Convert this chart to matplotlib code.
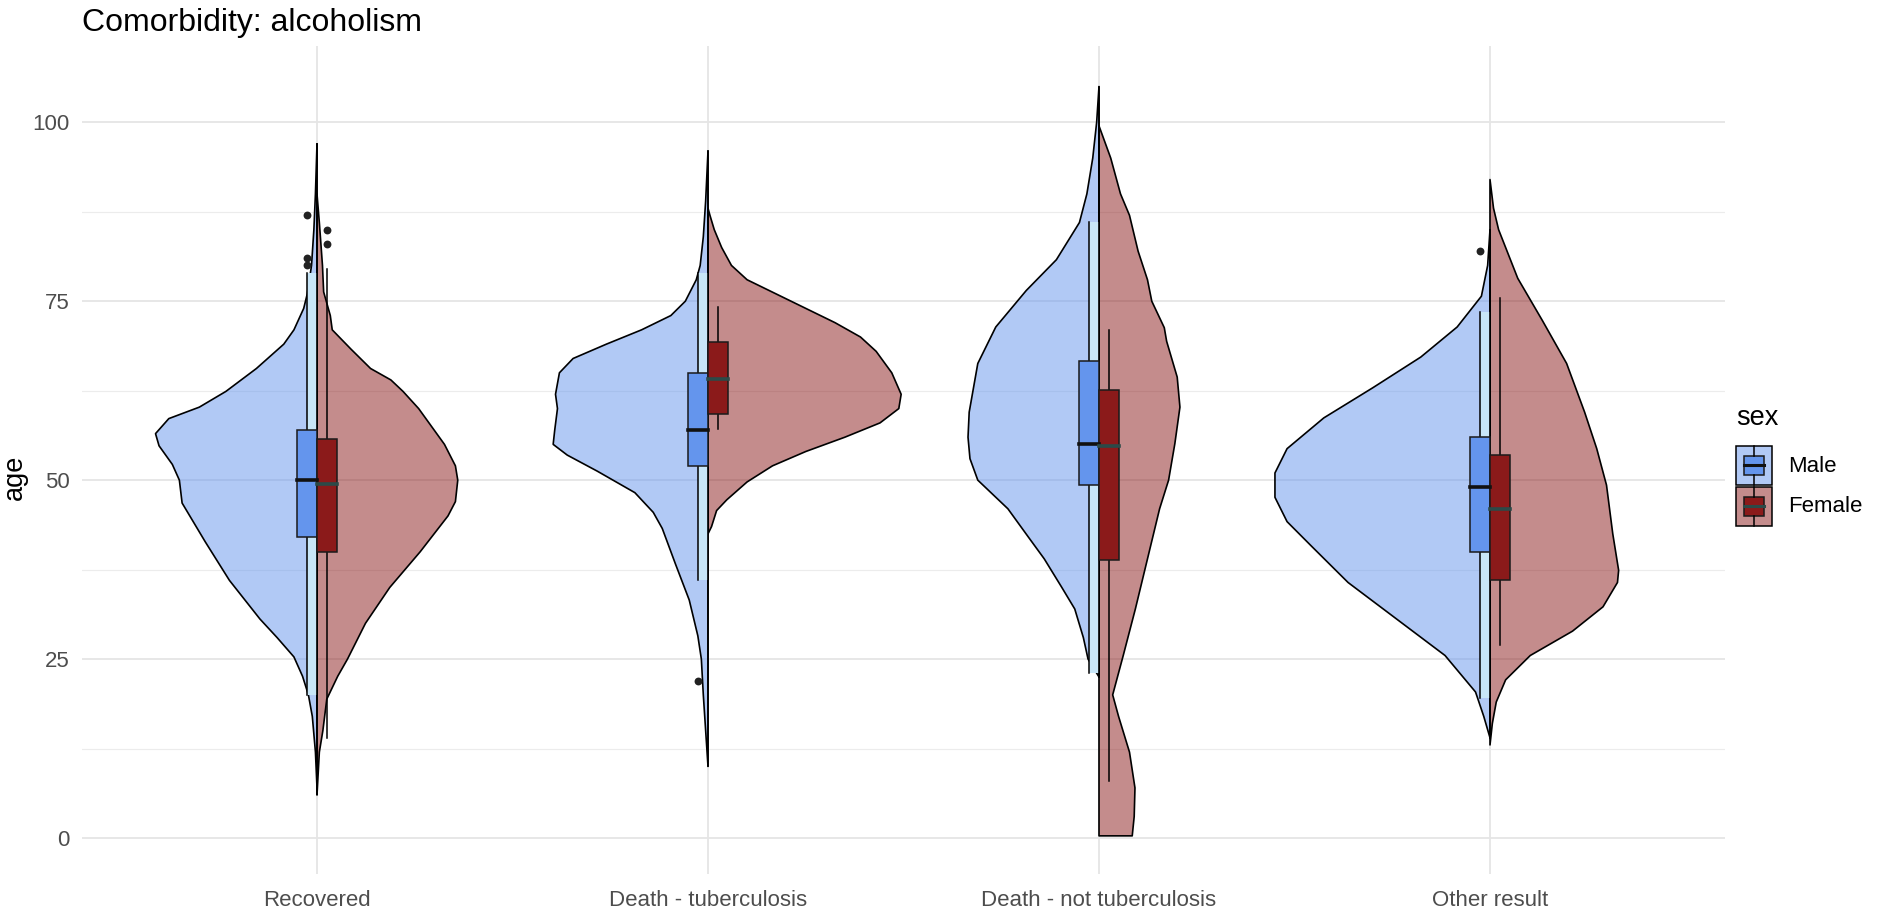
import matplotlib
matplotlib.use('Agg')
import matplotlib.pyplot as plt
from matplotlib.patches import Rectangle

plt.rcParams['font.family'] = ['Liberation Sans', 'DejaVu Sans']

outcomes = ['Recovered', 'Death - tuberculosis', 'Death - not tuberculosis', 'Other result']
sexes = ['Male', 'Female']

# half violin outlines: age, half width (category units)
recovered_male_age = [97, 90, 85, 80, 76, 74, 71, 69, 65.6, 62.4, 60.2, 58.6, 56.5, 54.8, 52.2, 50,
                      46.8, 41.4, 36, 30.6, 28, 25.3, 22.6, 20, 17, 12, 7]
recovered_male_w = [0, 0.004, 0.008, 0.014, 0.025, 0.034, 0.059, 0.085, 0.155, 0.233, 0.301, 0.379,
                    0.413, 0.404, 0.37, 0.352, 0.345, 0.286, 0.224, 0.146, 0.102, 0.059, 0.037,
                    0.022, 0.012, 0.004, 0]
recovered_female_age = [90, 86, 83, 80, 76.3, 73, 71, 68.3, 65.6, 64, 62.4, 60, 55, 52, 50, 47, 45,
                        40, 35, 30, 25, 22.6, 19.4, 15, 12, 9, 6]
recovered_female_w = [0, 0.006, 0.01, 0.014, 0.017, 0.034, 0.039, 0.087, 0.137, 0.189, 0.22, 0.26,
                      0.326, 0.354, 0.36, 0.354, 0.335, 0.264, 0.186, 0.124, 0.078, 0.053, 0.025,
                      0.015, 0.006, 0.003, 0]

tb_male_age = [96, 89, 84, 80, 78, 75, 73, 71, 69, 67, 65, 62, 60, 57, 55, 53.5, 51.25, 48.25, 45.5,
               43.25, 38.25, 33.25, 28.25, 25, 20, 15, 10]
tb_male_w = [0, 0.006, 0.012, 0.02, 0.03, 0.058, 0.095, 0.17, 0.26, 0.345, 0.38, 0.39, 0.385, 0.392,
             0.396, 0.36, 0.283, 0.187, 0.14, 0.117, 0.083, 0.048, 0.026, 0.017, 0.012, 0.006, 0]
tb_female_age = [88, 87, 85, 82.5, 80, 78, 76, 74, 72, 70, 68, 65, 62, 60, 58, 56, 54, 52,
                 49.75, 47.25, 45.75, 43.5, 42.5]
tb_female_w = [0, 0.005, 0.016, 0.035, 0.06, 0.1, 0.175, 0.25, 0.325, 0.39, 0.43, 0.47, 0.494,
               0.488, 0.44, 0.35, 0.25, 0.165, 0.1, 0.048, 0.022, 0.009, 0]

nottb_male_age = [105, 100, 95, 90, 86, 80.8, 76.5, 71.4, 66.3, 59.5, 56, 53, 50, 46, 42, 39, 35,
                  32, 28, 25, 22.5]
nottb_male_w = [0, 0.006, 0.016, 0.031, 0.05, 0.109, 0.186, 0.264, 0.31, 0.332, 0.335, 0.33, 0.31,
                0.233, 0.18, 0.14, 0.095, 0.062, 0.04, 0.028, 0]
nottb_female_age = [99.5, 95, 90, 87, 82, 78, 75, 71.3, 69.4, 64.4, 60.2, 55.1, 50, 46, 39, 32,
                    25.5, 20, 17, 12, 7, 3, 0.3]
nottb_female_w = [0, 0.03, 0.055, 0.078, 0.1, 0.124, 0.135, 0.167, 0.173, 0.2, 0.207, 0.194, 0.178,
                  0.155, 0.124, 0.093, 0.062, 0.035, 0.05, 0.078, 0.092, 0.09, 0.085]

other_male_age = [85, 80, 75.7, 71.4, 67.2, 62.9, 58.7, 54.4, 51, 47.6, 44.2, 40.8, 35.7, 30.6,
                  25.5, 20.4, 17, 14]
other_male_w = [0, 0.006, 0.022, 0.084, 0.177, 0.3, 0.425, 0.519, 0.55, 0.55, 0.519, 0.457, 0.363,
                0.239, 0.115, 0.037, 0.016, 0]
other_female_age = [92, 88, 85, 78.2, 72.3, 66.3, 59.5, 54.4, 49.3, 42.5, 37.4, 35.7, 32.3, 28.9,
                    25.5, 22.1, 19, 16, 13]
other_female_w = [0, 0.009, 0.022, 0.071, 0.134, 0.196, 0.242, 0.273, 0.298, 0.314, 0.329, 0.326,
                  0.289, 0.211, 0.103, 0.04, 0.016, 0.006, 0]

male_violin_age = [recovered_male_age, tb_male_age, nottb_male_age, other_male_age]
male_violin_w = [recovered_male_w, tb_male_w, nottb_male_w, other_male_w]
female_violin_age = [recovered_female_age, tb_female_age, nottb_female_age, other_female_age]
female_violin_w = [recovered_female_w, tb_female_w, nottb_female_w, other_female_w]

# box statistics per outcome
male_q1 = [42, 52, 49.3, 40]
male_med = [50, 57, 55, 49]
male_q3 = [57, 65, 66.7, 56]
male_lo = [20, 36, 23, 19.5]
male_hi = [79, 79, 86, 73.5]
female_q1 = [40, 59.3, 38.8, 36]
female_med = [49.5, 64.1, 54.8, 46]
female_q3 = [55.8, 69.3, 62.6, 53.5]
female_lo = [14, 57.2, 8, 27]
female_hi = [79.5, 74.2, 71, 75.5]

male_out_group = [0, 0, 0, 1, 3]
male_out_age = [87, 81, 80, 22, 82]
female_out_group = [0, 0]
female_out_age = [85, 83]

male_col = '#6495ED'
female_col = '#8B1A1A'
box_w = 0.05
wh_off = 0.026

W, H = 1901, 913
fig = plt.figure(figsize=(W / 100, H / 100), dpi=100)
ax = fig.add_axes([82.4 / W, 1 - 873.5 / H, 1642.2 / W, 827.5 / H])

for i in range(len(outcomes)):
    c = i + 1
    ma, mw = male_violin_age[i], male_violin_w[i]
    fa, fw = female_violin_age[i], female_violin_w[i]
    ax.fill_betweenx(ma, [c - w for w in mw], c, facecolor=male_col, alpha=0.5, lw=0, zorder=2)
    ax.fill_betweenx(ma, [c - w for w in mw], c, facecolor='none', edgecolor='black', lw=1.2, zorder=3)
    ax.fill_betweenx(fa, c, [c + w for w in fw], facecolor=female_col, alpha=0.5, lw=0, zorder=2)
    ax.fill_betweenx(fa, c, [c + w for w in fw], facecolor='none', edgecolor='black', lw=1.2, zorder=3)

    # light strip over male whisker range
    ax.add_patch(Rectangle((c - wh_off, male_lo[i]), wh_off, male_hi[i] - male_lo[i],
                           facecolor='#c8e6f8', edgecolor='none', zorder=4))
    ax.plot([c, c], [min(ma), max(ma)], color='black', lw=1.2, zorder=4)

    # whiskers
    ax.plot([c - wh_off] * 2, [male_lo[i], male_hi[i]], color='black', lw=1.1, zorder=5)
    ax.plot([c + wh_off] * 2, [female_lo[i], female_hi[i]], color='black', lw=1.1, zorder=5)

    # boxes
    ax.add_patch(Rectangle((c - box_w, male_q1[i]), box_w, male_q3[i] - male_q1[i],
                           facecolor=male_col, edgecolor='#1a1a1a', lw=1.1, zorder=6))
    ax.add_patch(Rectangle((c, female_q1[i]), box_w, female_q3[i] - female_q1[i],
                           facecolor=female_col, edgecolor='#1a1a1a', lw=1.1, zorder=6))
    ax.plot([c - box_w, c], [male_med[i]] * 2, color='#111111', lw=2.6, zorder=7)
    ax.plot([c, c + box_w], [female_med[i]] * 2, color='#2b4a48', lw=2.6, zorder=7)

ax.scatter([g + 1 - wh_off for g in male_out_group], male_out_age, s=32, color='#222222', zorder=8, lw=0)
ax.scatter([g + 1 + wh_off for g in female_out_group], female_out_age, s=32, color='#222222', zorder=8, lw=0)

ax.set_xlim(0.4, 4.6)
ax.set_ylim(-4.96, 110.66)
ax.set_xticks(range(1, len(outcomes) + 1))
ax.set_xticklabels(outcomes)
ax.set_yticks([0, 25, 50, 75, 100])
ax.set_yticks([12.5, 37.5, 62.5, 87.5], minor=True)
ax.tick_params(axis='both', which='both', length=0, labelsize=16, colors='#4d4d4d')
ax.tick_params(axis='x', pad=12)
ax.tick_params(axis='y', pad=9)
ax.grid(True, which='major', color='#e5e5e5', lw=1.3)
ax.grid(True, which='minor', axis='y', color='#ececec', lw=0.8)
ax.set_axisbelow(True)
for s in ax.spines.values():
    s.set_visible(False)

fig.text(15 / W, 1 - 477 / H, 'age', fontsize=19.5, rotation=90, ha='center', va='center')
fig.text(82 / W, 1 - 31 / H, 'Comorbidity: alcoholism', fontsize=23, ha='left', va='baseline')

# legend, drawn in pixel space
lax = fig.add_axes([0, 0, 1, 1], zorder=10)
lax.set_xlim(0, W)
lax.set_ylim(H, 0)
lax.axis('off')
lax.text(1736, 418, 'sex', fontsize=19.5, va='center', ha='left')
key_y = [446, 487]
key_fill = [male_col, female_col]
for k, lab in enumerate(sexes):
    y0 = key_y[k]
    lax.add_patch(Rectangle((1736, y0), 36, 39, facecolor=key_fill[k], alpha=0.5, edgecolor='none'))
    lax.add_patch(Rectangle((1736, y0), 36, 39, facecolor='none', edgecolor='black', lw=1.1))
    lax.plot([1754, 1754], [y0, y0 + 10], color='black', lw=1.1)
    lax.plot([1754, 1754], [y0 + 29, y0 + 39], color='black', lw=1.1)
    lax.add_patch(Rectangle((1744, y0 + 10), 20, 19, facecolor=key_fill[k], edgecolor='#1a1a1a', lw=1.1))
    lax.plot([1744, 1764], [y0 + 19.5, y0 + 19.5], color='#111111' if k == 0 else '#2b4a48', lw=2.2)
    lax.text(1788, y0 + 20, lab, fontsize=16, va='center', ha='left')

fig.savefig('out.png', dpi=100)
